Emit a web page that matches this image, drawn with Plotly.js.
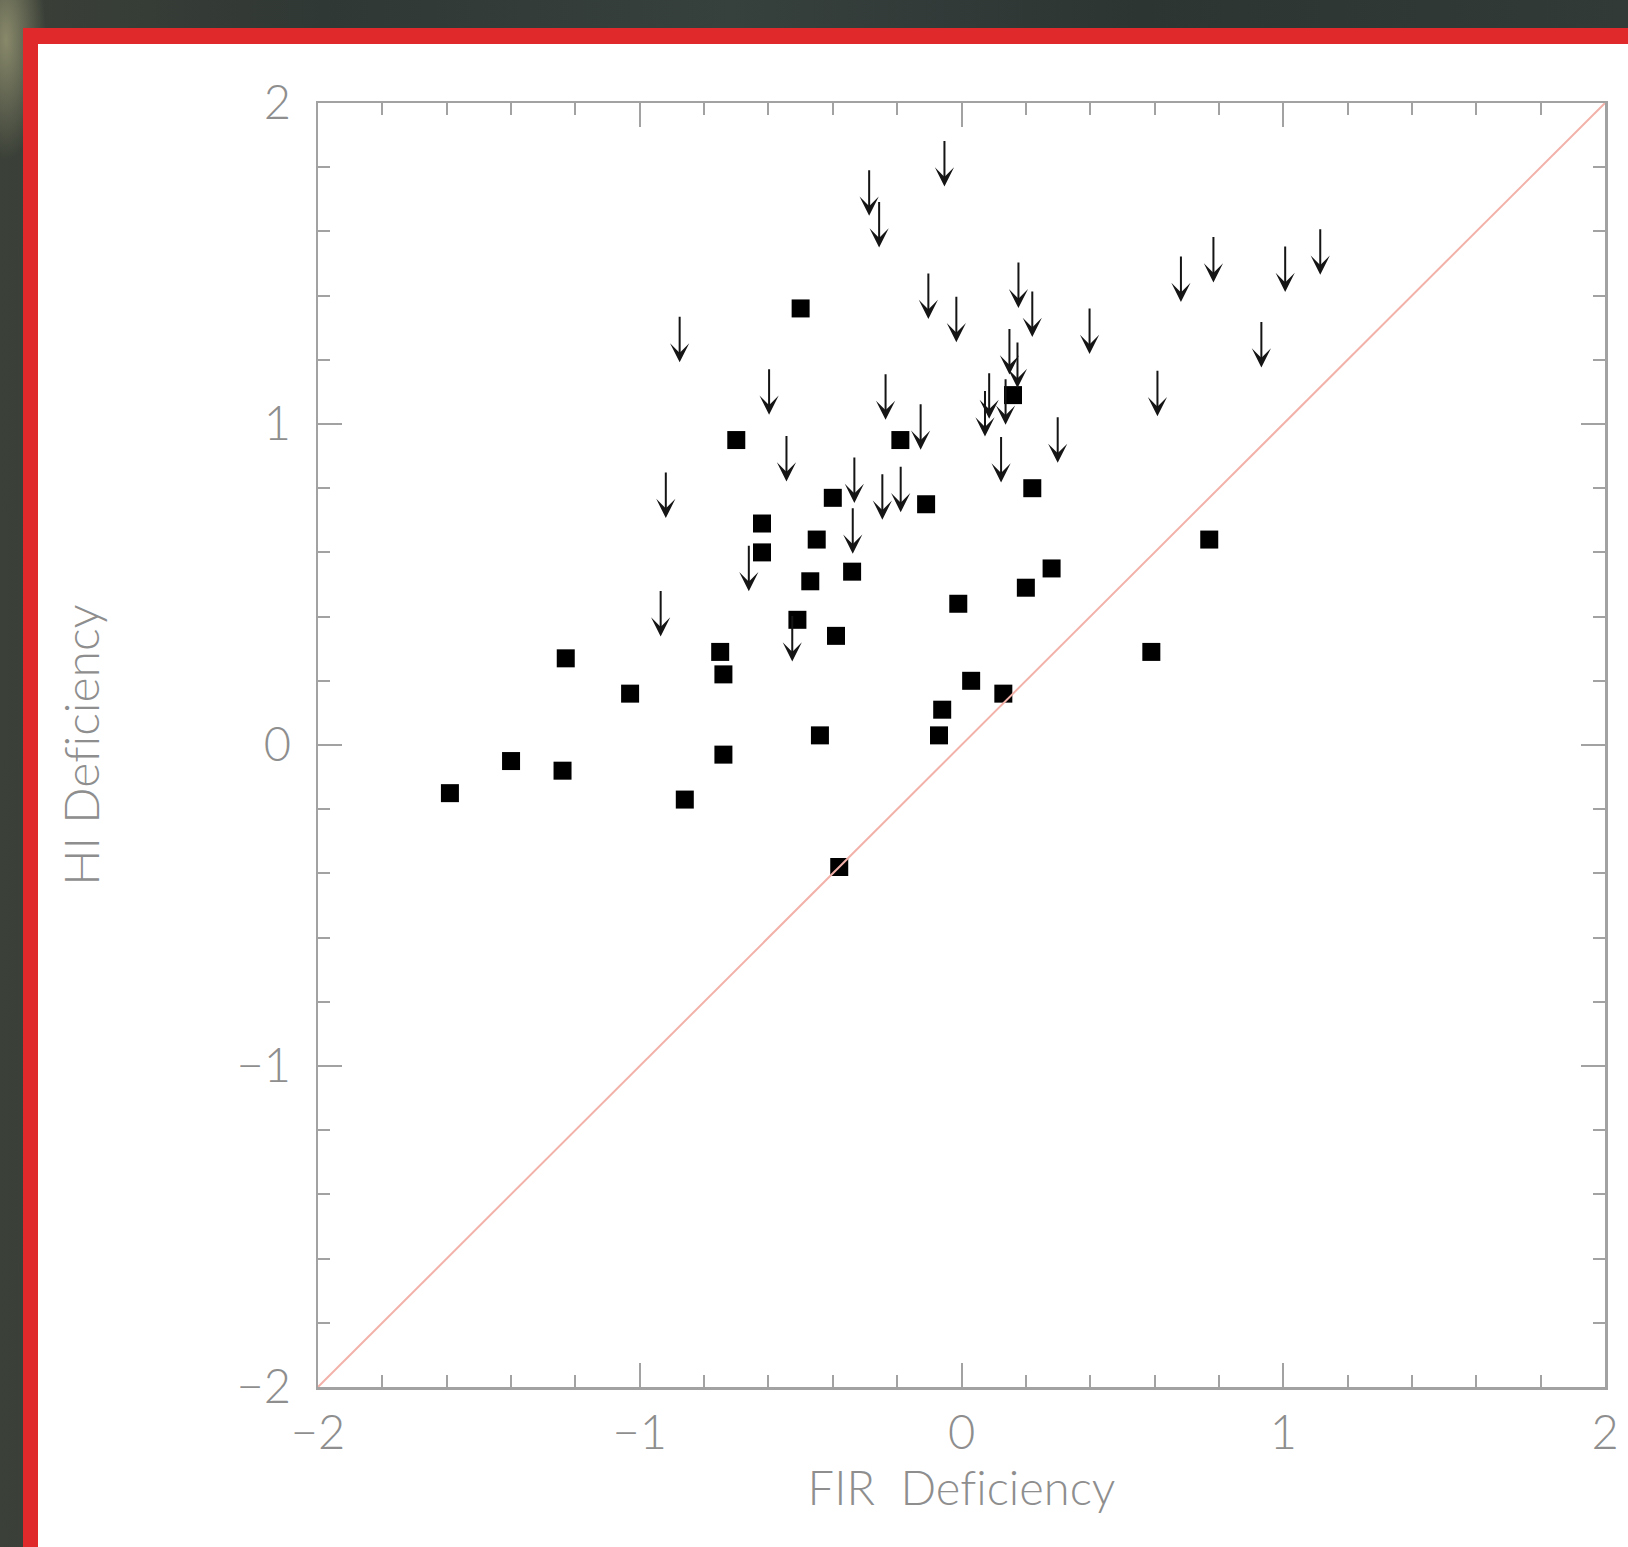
<!DOCTYPE html>
<html><head><meta charset="utf-8">
<script src="https://cdn.plot.ly/plotly-3.0.1.min.js"></script>
<style>
html,body{margin:0;padding:0;width:1628px;height:1547px;overflow:hidden;}
body{background:
  radial-gradient(ellipse 40px 120px at 6px 40px, rgba(150,150,115,0.85), rgba(150,150,115,0) 100%),
  linear-gradient(90deg,#3b4038 0%,#303835 20%,#36403d 45%,#2d3533 70%,#323a38 100%);}
#frame{position:absolute;left:23px;top:28px;right:0;bottom:0;background:#fff;border-left:15px solid #e0292b;border-top:16px solid #e0292b;}
#chart{position:absolute;left:0;top:0;width:1628px;height:1547px;}
#chart text{font-variant-ligatures:none;font-feature-settings:"liga" 0;}
</style></head><body>
<div id="frame"></div>
<div id="chart"></div>
<script>
// Detections (filled squares): FIR deficiency vs HI deficiency
const detectX = [-0.50,-0.70,-0.19,0.16,0.22,-0.40,-0.11,-0.62,-0.45,-0.62,-0.34,-0.47,0.28,0.20,-0.01,-0.51,-0.39,0.77,-1.23,-0.75,-0.74,-1.03,0.59,0.03,0.13,-0.06,-0.44,-0.07,-1.40,-1.24,-0.74,-1.59,-0.86,-0.38];
const detectY = [1.36,0.95,0.95,1.09,0.80,0.77,0.75,0.69,0.64,0.60,0.54,0.51,0.55,0.49,0.44,0.39,0.34,0.64,0.27,0.29,0.22,0.16,0.29,0.20,0.16,0.11,0.03,0.03,-0.05,-0.08,-0.03,-0.15,-0.17,-0.38];
// Upper limits (arrows): position of the arrow tip
const limitX = [-0.053,-0.287,-0.256,-0.103,-0.016,0.177,0.220,0.398,0.682,0.783,1.006,1.115,0.932,0.609,0.149,0.174,0.086,0.073,0.137,-0.236,-0.127,0.299,0.123,-0.333,-0.246,-0.189,-0.338,-0.876,-0.598,-0.544,-0.919,-0.935,-0.661,-0.526];
const limitY = [1.740,1.649,1.550,1.327,1.255,1.361,1.271,1.218,1.380,1.441,1.411,1.465,1.176,1.024,1.154,1.112,1.016,0.961,0.998,1.013,0.920,0.879,0.818,0.754,0.702,0.725,0.596,1.192,1.029,0.821,0.707,0.338,0.479,0.260];
const unityLine = [-2, 2];
const tickValues = [-2,-1,0,1,2];
const tickLabels = ['\u22122','\u22121','0','1','2'];
const xTitle = 'FIR  Deficiency';
const yTitle = 'HI Deficiency';

const axisGray = '#a2a2a2';
const textGray = '#8e8e8e';
const fontFam = 'Lato, Roboto, sans-serif';

function axis(titleText, standoff, labelStandoff, titleSize) {
  return {
    range: [-2, 2], autorange: false, fixedrange: true,
    tickmode: 'array', tickvals: tickValues, ticktext: tickLabels,
    ticks: 'inside', ticklen: 24, tickwidth: 2, tickcolor: axisGray,
    showline: true, linecolor: axisGray, linewidth: 2.5, mirror: 'ticks',
    showgrid: false, zeroline: false,
    ticklabelstandoff: labelStandoff,
    minor: {tickmode: 'linear', tick0: -2, dtick: 0.2, ticks: 'inside', ticklen: 12, tickwidth: 2, tickcolor: axisGray, showgrid: false},
    tickfont: {family: fontFam, size: 47, color: textGray, weight: 300},
    title: {text: titleText, font: {family: fontFam, size: titleSize, color: textGray, weight: 300}, standoff: standoff}
  };
}

const traces = [
  {x: detectX, y: detectY, type: 'scatter', mode: 'markers',
   marker: {symbol: 'square', size: 18, color: '#000', line: {width: 0}}, hoverinfo: 'skip'},
  {x: unityLine, y: unityLine, type: 'scatter', mode: 'lines',
   line: {color: '#f2b1a9', width: 2}, hoverinfo: 'skip'}
];

const arrows = limitX.map((x, i) => ({
  x: x, y: limitY[i], xref: 'x', yref: 'y', text: '',
  showarrow: true, arrowhead: 3, arrowsize: 1.6, arrowwidth: 2,
  arrowcolor: '#151515', ax: 0, ay: -47, standoff: 0
}));

const layout = {
  width: 1628, height: 1547,
  paper_bgcolor: 'rgba(0,0,0,0)', plot_bgcolor: 'rgba(0,0,0,0)',
  margin: {l: 318, r: 23, t: 103, b: 160, pad: 0},
  showlegend: false,
  xaxis: axis(xTitle, 0, 3, 47),
  yaxis: axis(yTitle, 122, 15, 48),
  annotations: arrows
};

Plotly.newPlot('chart', traces, layout, {staticPlot: true, displayModeBar: false});
</script>
</body></html>
